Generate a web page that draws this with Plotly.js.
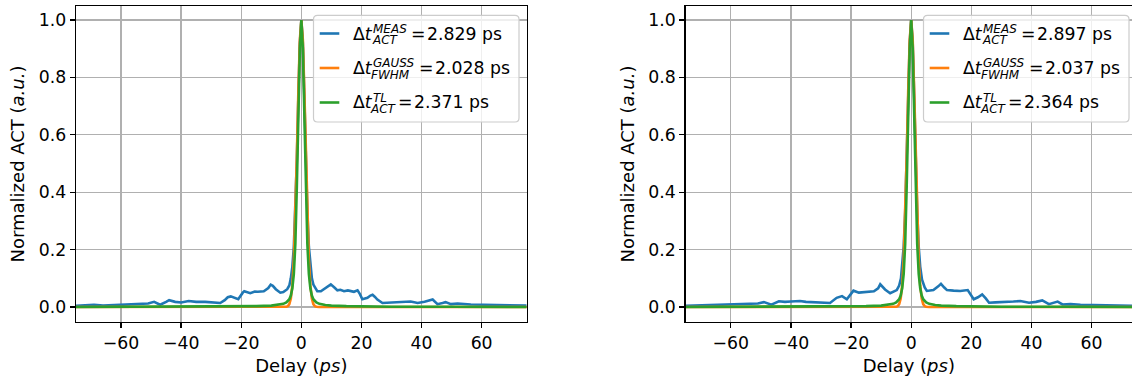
<!DOCTYPE html>
<html>
<head>
<meta charset="utf-8">
<script src="https://cdn.plot.ly/plotly-3.0.1.min.js"></script>
<style>html,body{margin:0;padding:0;background:#fff;}#chart{width:1132px;height:381px;}</style>
</head>
<body>
<div id="chart"></div>
<script>
// ---------- DATA ----------
const leftMeasX = [
  -75,-72,-69,-66,-63,-60,-57,-54,-51,-49,
  -47,-45,-44,-42,-40,-37.5,-35,-32,-29,-27,
  -25.5,-24.5,-23.5,-22,-21,-19.5,-19,-17,-15.5,-14.5,
  -12.5,-11,-10.2,-9.5,-8.5,-7,-6,-4.7,-4,-3.5,
  -3,-2.5,-2,-1.5,-1,-0.5,0,0.5,1,1.5,
  2,2.5,3,3.5,4,5.3,6.5,7.6,9,9.8,
  11,12,13,14.2,15.5,16.4,17.5,18.7,19.5,20.3,
  21,22,23,23.7,24.5,25.3,27,30,32,34,
  36.4,38.7,41,43.7,45.3,47,48,49.8,52,56.4,
  60,63,66,69,72,75];
const leftMeasY = [
  .004,.005,.008,.005,.006,.007,.010,.009,.012,.018,
  .008,.018,.024,.018,.016,.021,.018,.018,.016,.014,
  .024,.034,.037,.030,.027,.050,.055,.048,.054,.053,
  .055,.066,.078,.074,.062,.050,.052,.062,.075,.10,
  .14,.21,.33,.51,.73,.92,1.0,.92,.73,.51,
  .33,.21,.14,.10,.078,.055,.055,.062,.072,.079,
  .068,.058,.060,.055,.058,.055,.053,.058,.045,.027,
  .028,.032,.040,.043,.035,.026,.014,.016,.016,.018,
  .019,.014,.018,.026,.010,.014,.017,.010,.012,.009,
  .008,.006,.006,.005,.005,.005];

const rightMeasX = [
  -75,-72,-69,-66,-63.5,-60,-57,-54,-51,-49,
  -46.5,-44,-42,-40,-37,-35,-32.4,-29,-27,-24.8,
  -23,-21.4,-19.2,-17.4,-15.3,-12.4,-11,-10.3,-8.7,-7,
  -4.8,-4,-3.4,-3,-2.5,-2,-1.5,-1,-0.5,0,
  0.5,1,1.5,2,2.5,3,3.6,4.5,5.2,7.4,
  9,9.9,11,11.9,14.1,16.3,18.8,19.8,20.8,22.2,
  23.6,24.8,25.9,28,31.9,34,36.3,39.2,41.5,43.6,
  45.8,47.5,48.7,50.3,53,56.3,60,65.3,69,75];
const rightMeasY = [
  .004,.005,.006,.005,.006,.007,.010,.009,.012,.017,
  .008,.020,.018,.019,.021,.018,.017,.016,.014,.032,
  .038,.027,.057,.050,.053,.055,.065,.079,.061,.048,
  .059,.075,.10,.14,.21,.33,.51,.73,.92,1.0,
  .92,.73,.51,.33,.21,.14,.095,.068,.056,.059,
  .072,.081,.068,.059,.057,.056,.059,.045,.027,.034,
  .044,.030,.015,.016,.017,.019,.021,.015,.018,.023,
  .010,.016,.019,.009,.010,.008,.007,.006,.005,.004];

const gaussX = [-75,-6,-5,-4.5,-4,-3.5,-3,-2.5,-2,-1.5,-1,-0.5,0,0.5,1,1.5,2,2.5,3,3.5,4,4.5,5,6,75];
const leftGaussY  = [0,0,0.001,0.003,0.010,0.030,0.076,0.166,0.317,0.524,0.751,0.931,1,0.931,0.751,0.524,0.317,0.166,0.076,0.030,0.010,0.003,0.001,0,0];
const rightGaussY = [0,0,0.001,0.003,0.010,0.030,0.075,0.165,0.316,0.523,0.750,0.930,1,0.930,0.750,0.523,0.316,0.165,0.075,0.030,0.010,0.003,0.001,0,0];

const tlX = [-75,-50,-30,-20,-15,-10,-8,-6,-5,-4,-3.5,-3,-2.5,-2,-1.5,-1,-0.5,0,0.5,1,1.5,2,2.5,3,3.5,4,5,6,8,10,15,20,30,50,75];
const leftTlY  = [0,0.001,0.001,0.002,0.003,0.005,0.007,0.011,0.016,0.027,0.04,0.065,0.115,0.22,0.42,0.67,0.9,1,0.9,0.67,0.42,0.22,0.115,0.065,0.04,0.027,0.016,0.011,0.007,0.005,0.003,0.002,0.001,0.001,0];
const rightTlY = [0,0.001,0.001,0.002,0.003,0.005,0.007,0.011,0.016,0.027,0.04,0.065,0.115,0.22,0.42,0.67,0.9,1,0.9,0.67,0.42,0.22,0.115,0.065,0.04,0.027,0.016,0.011,0.007,0.005,0.003,0.002,0.001,0.001,0];

const yTicks = [0, 0.2, 0.4, 0.6, 0.8, 1.0];
const xTicks = [-60, -40, -20, 0, 20, 40, 60];
const leftLegend  = [["MEAS","ACT","2.829 ps"],["GAUSS","FWHM","2.028 ps"],["TL","ACT","2.371 ps"]];
const rightLegend = [["MEAS","ACT","2.897 ps"],["GAUSS","FWHM","2.037 ps"],["TL","ACT","2.364 ps"]];

// ---------- STYLE / LAYOUT ----------
const C = ['#1f77b4', '#ff7f0e', '#2ca02c'];
const FONT = 'DejaVu Sans';
const W = 1132, H = 381, ML = 76, MR = 0, MT = 6, MB = 59;
const PW = W - ML - MR, PH = H - MT - MB;
const px2x = p => (p - ML) / PW;
const px2y = p => (H - MB - p) / PH;

function tr(x, y, c, xa, ya) {
  return {x: x, y: y, type: 'scatter', mode: 'lines', xaxis: xa, yaxis: ya,
          line: {color: c, width: 2.6}, hoverinfo: 'skip', showlegend: false};
}
const data = [
  tr(leftMeasX, leftMeasY, C[0], 'x', 'y'),
  tr(gaussX, leftGaussY, C[1], 'x', 'y'),
  tr(tlX, leftTlY, C[2], 'x', 'y'),
  tr(rightMeasX, rightMeasY, C[0], 'x2', 'y2'),
  tr(gaussX, rightGaussY, C[1], 'x2', 'y2'),
  tr(tlX, rightTlY, C[2], 'x2', 'y2')
];

const tickfont = {family: FONT, size: 17.3, color: '#000'};
const titlefont = {family: FONT, size: 18, color: '#000'};
function xax(domain, range, mirror) {
  return {domain: domain, range: range, tickvals: xTicks, ticks: 'outside', ticklen: 5, tickwidth: 1.4,
    tickcolor: '#000', showline: true, linecolor: '#000', linewidth: 1.4, mirror: mirror,
    showgrid: true, gridcolor: '#b0b0b0', gridwidth: 1.4, zeroline: false, tickfont: tickfont,
    title: {text: 'Delay (<i>ps</i>)', font: titlefont, standoff: 7}};
}
function yax(anchor, mirror) {
  return {domain: [0, 1], range: [-0.0522, 1.0487], anchor: anchor, tickvals: yTicks, tickformat: '.1f',
    ticks: 'outside', ticklen: 5, tickwidth: 1.4, tickcolor: '#000', showline: true, linecolor: '#000',
    linewidth: 1.4, mirror: mirror, showgrid: true, gridcolor: '#b0b0b0', gridwidth: 1.4, zeroline: false,
    tickfont: tickfont,
    title: {text: 'Normalized ACT (<i>a.u.</i>)', font: titlefont, standoff: 9}};
}

const shapes = [], annotations = [];
function legend(offset, entries) {
  const x0 = 313.5 + offset, x1 = 519 + offset, y0 = 15.3, y1 = 122, r = 4;
  const P = (a, b) => px2x(a) + ',' + px2y(b);
  const path = 'M' + P(x0 + r, y0) + ' L' + P(x1 - r, y0) + ' Q' + P(x1, y0) + ' ' + P(x1, y0 + r) +
    ' L' + P(x1, y1 - r) + ' Q' + P(x1, y1) + ' ' + P(x1 - r, y1) + ' L' + P(x0 + r, y1) +
    ' Q' + P(x0, y1) + ' ' + P(x0, y1 - r) + ' L' + P(x0, y0 + r) + ' Q' + P(x0, y0) + ' ' + P(x0 + r, y0) + ' Z';
  shapes.push({type: 'path', xref: 'paper', yref: 'paper', path: path, layer: 'above',
    fillcolor: 'rgba(255,255,255,0.8)', line: {color: '#cccccc', width: 1.2}});
  const ys = [33.5, 68, 102.5];
  const supX = [372, 372, 372], subX = [370.7, 370, 368.6];
  const eqX = [409.5, 417.6, 396.5], valX = [426, 434.1, 413];
  entries.forEach((e, i) => {
    const ly = ys[i];
    shapes.push({type: 'line', xref: 'paper', yref: 'paper', layer: 'above',
      x0: px2x(319.7 + offset), x1: px2x(339.3 + offset), y0: px2y(ly), y1: px2y(ly),
      line: {color: C[i], width: 2.6}});
    const A = (text, x, yc, size) => annotations.push({text: text, xref: 'paper', yref: 'paper',
      x: px2x(x + offset), y: px2y(yc), xanchor: 'left', yanchor: 'middle', showarrow: false, borderpad: 0,
      font: {family: FONT, size: size, color: '#000'}});
    A('\u0394<i>t</i>', 352, ly, 17.3);
    A('<i>' + e[0] + '</i>', supX[i], ly - 4.8, 12);
    A('<i>' + e[1] + '</i>', subX[i], ly + 6.6, 12);
    A('=', eqX[i], ly, 17.3);
    A(e[2], valX[i], ly, 17.3);
  });
}
legend(0, leftLegend);
legend(610, rightLegend);

const layout = {
  width: W, height: H, margin: {l: ML, r: MR, t: MT, b: MB}, paper_bgcolor: '#fff', plot_bgcolor: '#fff',
  showlegend: false, font: {family: FONT, color: '#000'},
  xaxis: xax([px2x(75.7), px2x(526.7)], [-75, 75], true),
  yaxis: yax('x', true),
  xaxis2: xax([px2x(685.7), 1], [-75, 73.44], true),
  yaxis2: yax('x2', false),
  shapes: shapes, annotations: annotations
};
layout.xaxis.anchor = 'y';
layout.xaxis2.anchor = 'y2';

Plotly.newPlot('chart', data, layout, {staticPlot: true, displayModeBar: false});
</script>
</body>
</html>
